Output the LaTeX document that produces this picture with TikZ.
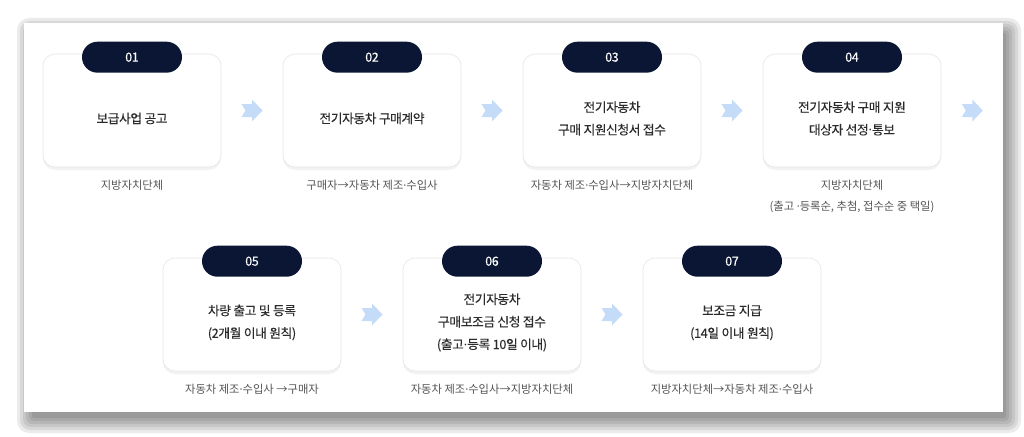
\documentclass[tikz,border=0pt]{standalone}
\usepackage{fontspec}
\setmainfont{Noto Sans CJK KR}
\newfontfamily\kr{Noto Sans CJK KR}
\newfontfamily\krmed[FakeBold=0.2,LetterSpace=-3]{Noto Sans CJK KR}
\newfontfamily\latin{Noto Sans}
\newcommand{\md}{{\latin ·}}
\usetikzlibrary{calc,shadows}

\definecolor{pillnavy}{HTML}{0A1633}
\definecolor{arrowblue}{HTML}{C5DCF8}
\definecolor{cardline}{HTML}{E6E6E6}
\definecolor{cardink}{HTML}{2B2B2B}
\definecolor{whoink}{HTML}{555555}

\tikzset{
  stepcard/.style={draw=cardline, fill=white, line width=0.6pt, rounded corners=12pt,
    minimum width=178pt, minimum height=113pt, inner sep=0pt,
    drop shadow={shadow xshift=0pt, shadow yshift=-3pt, opacity=0.05, fill=black}},
  numpill/.style={fill=pillnavy, rounded corners=15.5pt, minimum width=100pt,
    minimum height=31pt, inner sep=0pt, text=white, font=\krmed\fontsize{12.5}{14}\selectfont},
  cardtext/.style={align=center, text=cardink, inner sep=0pt, font=\krmed\fontsize{12.7}{22.5}\selectfont},
  whotext/.style={align=center, text=whoink, inner sep=0pt, anchor=north, font=\kr\fontsize{11.3}{21}\selectfont},
  bluearrow/.pic={\fill[arrowblue] (-10.5,-6.5) -- (0,-6.5) -- (0,-11) -- (10.5,0) -- (0,11)
    -- (0,6.5) -- (-10.5,6.5) -- (-6.5,0) -- cycle;},
}

\begin{document}
\begin{tikzpicture}[x=1pt,y=-1pt]
  % page
  \useasboundingbox[fill=white] (0,0) rectangle (1024,436);

  % shadow of the panel
  \fill[black, opacity=0.08, rounded corners=12pt] (17,18) rectangle (1021,433);
  \fill[black, opacity=0.08, rounded corners=10pt] (20,21) rectangle (1018,430);
  \fill[black, opacity=0.08, rounded corners=8pt] (23,24) rectangle (1015,427);
  \fill[black, opacity=0.08, rounded corners=6pt] (26,27) rectangle (1012,424);
  \fill[black, opacity=0.08, rounded corners=4pt] (29,30) rectangle (1009,421);
  \fill[black, opacity=0.08, rounded corners=2pt] (32,33) rectangle (1006,418);

  % panel
  \fill[white] (24,23) rectangle (1003,412);

  % Step 01
  \node[stepcard] (c1) at (132,110.5) {};
  \node[numpill] (n1) at ([yshift=-3.5pt]c1.north) {01};
  \node[cardtext] (t1) at ([yshift=-8pt]c1.center) {보급사업 공고};
  \node[whotext] (w1) at ([yshift=-12.5pt]c1.south) {지방자치단체};

  % Step 02
  \node[stepcard] (c2) at (372,110.5) {};
  \node[numpill] (n2) at ([yshift=-3.5pt]c2.north) {02};
  \node[cardtext] (t2) at ([yshift=-8pt]c2.center) {전기자동차 구매계약};
  \node[whotext] (w2) at ([yshift=-12.5pt]c2.south) {구매자→자동차 제조\md 수입사};

  % Step 03
  \node[stepcard] (c3) at (612,110.5) {};
  \node[numpill] (n3) at ([yshift=-3.5pt]c3.north) {03};
  \node[cardtext] (t3) at ([yshift=-8pt]c3.center) {전기자동차\\구매 지원신청서 접수};
  \node[whotext] (w3) at ([yshift=-12.5pt]c3.south) {자동차 제조\md 수입사→지방자치단체};

  % Step 04
  \node[stepcard] (c4) at (852,110.5) {};
  \node[numpill] (n4) at ([yshift=-3.5pt]c4.north) {04};
  \node[cardtext] (t4) at ([yshift=-8pt]c4.center) {전기자동차 구매 지원\\대상자 선정\md 통보};
  \node[whotext] (w4) at ([yshift=-12.5pt]c4.south) {지방자치단체\\(출고 \md 등록순, 추첨, 접수순 중 택일)};

  % Step 05
  \node[stepcard] (c5) at (252,314.5) {};
  \node[numpill] (n5) at ([yshift=-3.5pt]c5.north) {05};
  \node[cardtext] (t5) at ([yshift=-8pt]c5.center) {차량 출고 및 등록\\(2개월 이내 원칙)};
  \node[whotext] (w5) at ([yshift=-12.5pt]c5.south) {자동차 제조\md 수입사 →구매자};

  % Step 06
  \node[stepcard] (c6) at (492,314.5) {};
  \node[numpill] (n6) at ([yshift=-3.5pt]c6.north) {06};
  \node[cardtext] (t6) at ([yshift=-8pt]c6.center) {전기자동차\\구매보조금 신청 접수\\(출고\md 등록 10일 이내)};
  \node[whotext] (w6) at ([yshift=-12.5pt]c6.south) {자동차 제조\md 수입사→지방자치단체};

  % Step 07
  \node[stepcard] (c7) at (732,314.5) {};
  \node[numpill] (n7) at ([yshift=-3.5pt]c7.north) {07};
  \node[cardtext] (t7) at ([yshift=-8pt]c7.center) {보조금 지급\\(14일 이내 원칙)};
  \node[whotext] (w7) at ([yshift=-12.5pt]c7.south) {지방자치단체→자동차 제조\md 수입사};

  % arrows between the steps
  \coordinate (c4end) at ([xshift=62pt]c4.east);
  \path ($(c1.east)!0.5!(c2.west)$) pic {bluearrow};
  \path ($(c2.east)!0.5!(c3.west)$) pic {bluearrow};
  \path ($(c3.east)!0.5!(c4.west)$) pic {bluearrow};
  \path ($(c4.east)!0.5!(c4end)$) pic {bluearrow};
  \path ($(c5.east)!0.5!(c6.west)$) pic {bluearrow};
  \path ($(c6.east)!0.5!(c7.west)$) pic {bluearrow};
\end{tikzpicture}
\end{document}
